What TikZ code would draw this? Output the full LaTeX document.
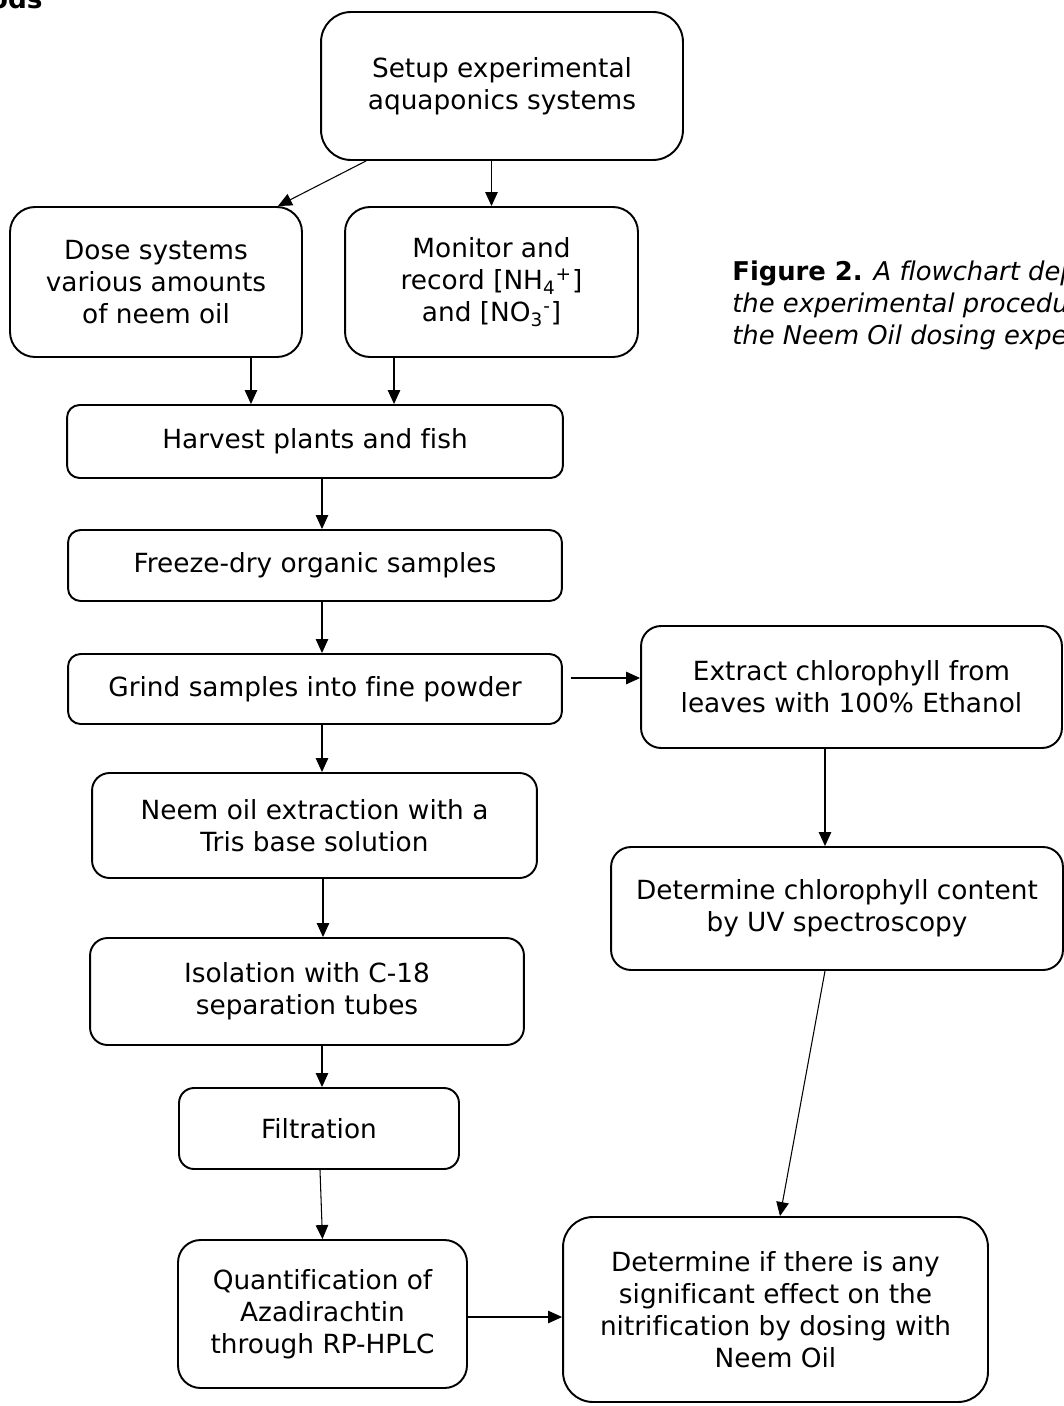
\documentclass[tikz,border=0pt]{standalone}
\usepackage{fontspec}
\setmainfont{DejaVu Sans}[Ligatures=NoCommon]
\usetikzlibrary{arrows.meta}

\begin{document}
\begin{tikzpicture}[
		x=0.02cm, y=-0.02cm,
		box/.style={rectangle, draw=black, line width=1.1pt, rounded corners=#1, align=center, inner sep=0pt, font=\fontsize{15}{18.2}\selectfont},
		box/.default=0.3cm,
		arr/.style={-{Triangle[length=0.28cm, width=0.25cm]}, line width=0.6pt},
		txt/.style={anchor=base west, inner sep=0pt, font=\fontsize{14.7}{18.2}\selectfont}
		]
		\useasboundingbox (0,0) rectangle (1063,1406);
		\node[txt, anchor=base east, font=\fontsize{15}{18.2}\selectfont\bfseries] (head) at (43,9) {ods};
		\node[txt] (cap1) at (732,280) {\textbf{Figure 2.} \textit{A flowchart dep}};
		\node[txt] (cap2) at (732,312) {\textit{the experimental procedu}};
		\node[txt] (cap3) at (732,344) {\textit{the Neem Oil dosing expe}};

		\node[box=0.6cm, minimum width=7.24cm, minimum height=2.96cm] (setup) at (502,86) {Setup experimental\\aquaponics systems};
		\node[box=0.5cm, minimum width=5.84cm, minimum height=3cm] (dose) at (156,282) {Dose systems\\various amounts\\of neem oil};
		\node[box=0.5cm, minimum width=5.86cm, minimum height=3cm] (monitor) at (491.5,282) {Monitor and\\record [NH\textsubscript{4}\textsuperscript{+}]\\and [NO\textsubscript{3}\textsuperscript{-}]};
		\node[box=0.25cm, minimum width=9.92cm, minimum height=1.46cm] (harvest) at (315,441.5) {Harvest plants and fish};
		\node[box=0.25cm, minimum width=9.88cm, minimum height=1.42cm] (freeze) at (315,565.5) {Freeze-dry organic samples};
		\node[box=0.25cm, minimum width=9.88cm, minimum height=1.4cm] (grind) at (315,689) {Grind samples into fine powder};
		\node[box=0.4cm, minimum width=8.42cm, minimum height=2.44cm] (extract) at (851.5,687) {Extract chlorophyll from\\leaves with 100\% Ethanol};
		\node[box=0.35cm, minimum width=8.9cm, minimum height=2.1cm] (neem) at (314.5,825.5) {Neem oil extraction with a\\Tris base solution};
		\node[box=0.4cm, minimum width=9.04cm, minimum height=2.46cm] (chl) at (837,908.5) {Determine chlorophyll content\\by UV spectroscopy};
		\node[box=0.35cm, minimum width=8.68cm, minimum height=2.14cm] (iso) at (307,991.5) {Isolation with C-18\\separation tubes};
		\node[box=0.3cm, minimum width=5.6cm, minimum height=1.62cm] (filt) at (319,1128.5) {Filtration};
		\node[box=0.45cm, minimum width=5.78cm, minimum height=2.96cm] (quant) at (322.5,1314) {Quantification of\\Azadirachtin\\through RP-HPLC};
		\node[box=0.6cm, minimum width=8.5cm, minimum height=3.7cm] (effect) at (775.5,1309.5) {Determine if there is any\\significant effect on the\\nitrification by dosing with\\Neem Oil};

		\draw[arr] ([xshift=0.92cm]setup.south west) -- ([xshift=-0.5cm]dose.north east);
		\draw[arr] (setup.south -| monitor.north) -- (monitor.north);
		\draw[arr] ([xshift=1.9cm]dose.south) -- ([xshift=1.9cm]dose.south |- harvest.north);
		\draw[arr] ([xshift=-1.95cm]monitor.south) -- ([xshift=-1.95cm]monitor.south |- harvest.north);
		\draw[arr] ([xshift=0.14cm]harvest.south) -- ([xshift=0.14cm]freeze.north);
		\draw[arr] ([xshift=0.14cm]freeze.south) -- ([xshift=0.14cm]grind.north);
		\draw[arr] ([shift={(0.16cm,0.22cm)}]grind.east) -- ([yshift=0.22cm]grind.east -| extract.west);
		\draw[arr] ([xshift=0.14cm]grind.south) -- ([xshift=0.14cm]grind.south |- neem.north);
		\draw[arr] ([xshift=-0.53cm]extract.south) -- ([xshift=-0.53cm]extract.south |- chl.north);
		\draw[arr] ([xshift=0.17cm]neem.south) -- ([xshift=0.17cm]neem.south |- iso.north);
		\draw[arr] ([xshift=0.3cm]iso.south) -- ([xshift=0.3cm]iso.south |- filt.north);
		\draw[arr] ([xshift=0.02cm]filt.south) -- (quant.north);
		\draw[arr] ([yshift=-0.06cm]quant.east) -- ([yshift=-0.06cm]quant.east -| effect.west);
		\draw[arr] ([xshift=-0.24cm]chl.south) -- ([xshift=0.09cm]effect.north);
	\end{tikzpicture}
\end{document}
